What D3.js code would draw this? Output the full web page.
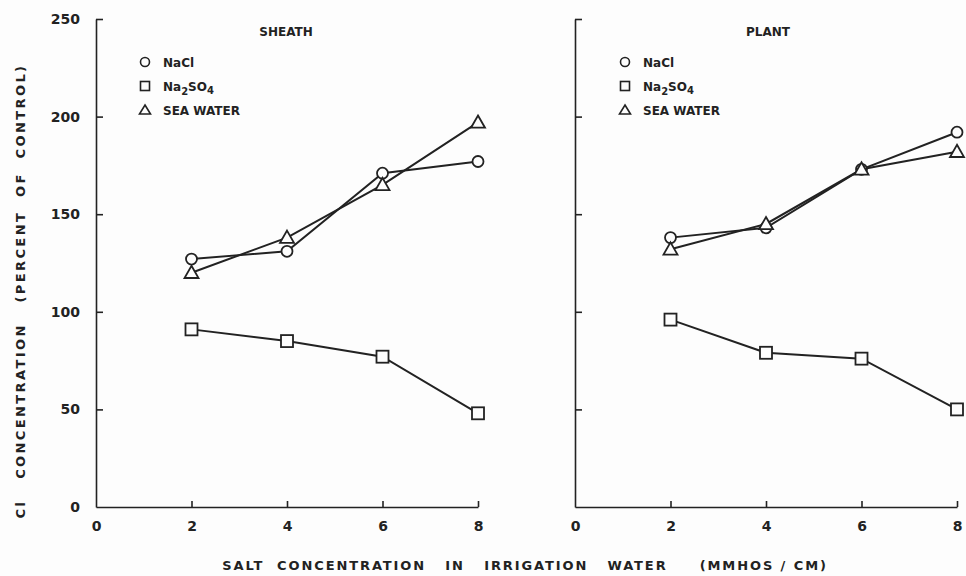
<!DOCTYPE html>
<html>
<head>
<meta charset="utf-8">
<script src="https://cdn.jsdelivr.net/npm/d3@7"></script>
<style>
  body { margin: 0; background: #fdfdfd; }
  svg { display: block; }
  .axis path, .axis line { stroke: #222; stroke-width: 1.6; }
  .axis text { font-family: "DejaVu Sans", sans-serif; font-weight: bold; font-size: 14px; fill: #222; }
  .lbl { font-family: "DejaVu Sans", sans-serif; font-weight: bold; fill: #222; }
</style>
</head>
<body>
<div id="chart"></div>
<script>
const salt = [2, 4, 6, 8];
const xTicks = [0, 2, 4, 6, 8];
const yTicks = [0, 50, 100, 150, 200, 250];

const sheathNaCl = [127, 131, 171, 177];
const sheathNa2SO4 = [91, 85, 77, 48];
const sheathSea = [120, 138, 165, 197];

const plantNaCl = [138, 143, 173, 192];
const plantNa2SO4 = [96, 79, 76, 50];
const plantSea = [132, 145, 173, 182];

const panels = [
  { name: "SHEATH", left: 96, right: 478, series: [
    { key: "circle", values: sheathNaCl },
    { key: "square", values: sheathNa2SO4 },
    { key: "triangle", values: sheathSea },
  ], labels: true },
  { name: "PLANT", left: 575, right: 957, series: [
    { key: "circle", values: plantNaCl },
    { key: "square", values: plantNa2SO4 },
    { key: "triangle", values: plantSea },
  ], labels: false },
];

const width = 966;
const height = 576;
const plotTop = 19;
const plotBottom = 507;
const ink = "#222";

const svg = d3.select("#chart")
  .append("svg")
  .attr("width", width)
  .attr("height", height);

const y = d3.scaleLinear().domain([0, 250]).range([plotBottom, plotTop]);

function marker(g, key, cx, cy) {
  if (key === "circle") {
    g.append("circle").attr("cx", cx).attr("cy", cy).attr("r", 5.5);
  } else if (key === "square") {
    g.append("rect").attr("x", cx - 6).attr("y", cy - 6).attr("width", 12).attr("height", 12);
  } else {
    const s = 7;
    g.append("path").attr("d", `M${cx},${cy - s}L${cx + s},${cy + s * 0.75}L${cx - s},${cy + s * 0.75}Z`);
  }
}

panels.forEach((p) => {
  const x = d3.scaleLinear().domain([0, 8]).range([p.left, p.right]);
  const g = svg.append("g");

  g.append("g")
    .attr("class", "axis")
    .attr("transform", `translate(${p.left},0)`)
    .call(d3.axisLeft(y).tickValues(yTicks).tickSize(-7).tickSizeOuter(0).tickPadding(p.labels ? 16 : 0)
      .tickFormat(p.labels ? d3.format("d") : () => ""))
    .call((a) => a.selectAll(".tick").filter((d) => d === 0).select("line").remove());

  g.append("g")
    .attr("class", "axis")
    .attr("transform", `translate(0,${plotBottom})`)
    .call(d3.axisBottom(x).tickValues(xTicks).tickSize(-6).tickSizeOuter(0).tickPadding(14))
    .call((a) => a.selectAll(".tick").filter((d) => d === 0).select("line").remove());

  const line = d3.line().x((d, i) => x(salt[i])).y((d) => y(d));

  p.series.forEach((s) => {
    g.append("path")
      .attr("d", line(s.values))
      .attr("fill", "none")
      .attr("stroke", ink)
      .attr("stroke-width", 2);
  });

  p.series.forEach((s) => {
    const mg = g.append("g").attr("fill", "#fdfdfd").attr("stroke", ink).attr("stroke-width", 1.8);
    s.values.forEach((v, i) => marker(mg, s.key, x(salt[i]), y(v)));
  });

  // panel title
  g.append("text")
    .attr("class", "lbl")
    .attr("x", p.left + (p.name === "SHEATH" ? 190 : 193))
    .attr("y", 36)
    .attr("text-anchor", "middle")
    .attr("font-size", 12)
    .text(p.name);

  // legend
  const lx = p.left + (p.name === "SHEATH" ? 49 : 50);
  const rows = [
    { key: "circle", y: 62, text: ["NaCl"] },
    { key: "square", y: 86, text: ["Na", "2", "SO", "4"] },
    { key: "triangle", y: 110, text: ["SEA WATER"] },
  ];
  const lg = g.append("g").attr("fill", "none").attr("stroke", ink).attr("stroke-width", 1.6);
  rows.forEach((r) => {
    if (r.key === "circle") lg.append("circle").attr("cx", lx).attr("cy", r.y).attr("r", 4.5);
    else if (r.key === "square") lg.append("rect").attr("x", lx - 4.5).attr("y", r.y - 4.5).attr("width", 9).attr("height", 9);
    else lg.append("path").attr("d", `M${lx},${r.y - 5}L${lx + 5.5},${r.y + 4}L${lx - 5.5},${r.y + 4}Z`);
    const t = g.append("text")
      .attr("class", "lbl")
      .attr("x", lx + 18)
      .attr("y", r.y + 4.5)
      .attr("font-size", 12);
    if (r.text.length === 1) {
      t.text(r.text[0]);
    } else {
      t.append("tspan").text(r.text[0]);
      t.append("tspan").attr("dy", 4).attr("font-size", 10).text(r.text[1]);
      t.append("tspan").attr("dy", -4).text(r.text[2]);
      t.append("tspan").attr("dy", 3).attr("font-size", 10).text(r.text[3]);
    }
  });
});

// axis titles
svg.append("text")
  .attr("class", "lbl")
  .attr("transform", `translate(25,291)rotate(-90)`)
  .attr("text-anchor", "middle")
  .attr("font-size", 13)
  .attr("letter-spacing", 2.4)
  .attr("xml:space", "preserve")
  .text("Cl   CONCENTRATION   (PERCENT  OF  CONTROL)");

svg.append("text")
  .attr("class", "lbl")
  .attr("x", 525)
  .attr("y", 570)
  .attr("text-anchor", "middle")
  .attr("font-size", 13)
  .attr("letter-spacing", 1.9)
  .attr("xml:space", "preserve")
  .text("SALT  CONCENTRATION   IN   IRRIGATION   WATER     (MMHOS / CM)");
</script>
</body>
</html>
